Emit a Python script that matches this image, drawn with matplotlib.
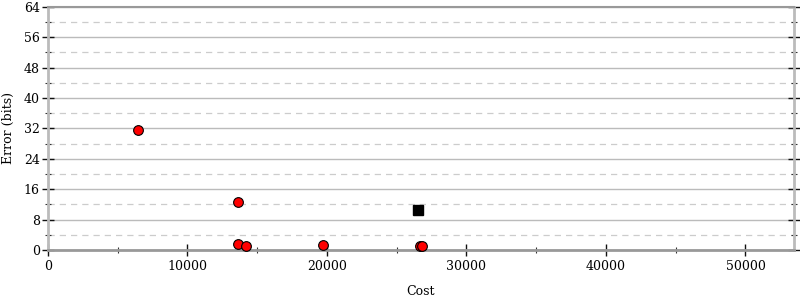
import matplotlib
matplotlib.use("Agg")
import matplotlib.pyplot as plt
from matplotlib.ticker import MultipleLocator

# red circles: cost vs error
circle_cost = [6450, 13630, 13650, 14200, 19730, 26690, 26830]
circle_err = [31.6, 12.6, 1.6, 1.1, 1.4, 1.0, 0.9]

# black square
square_cost = [26550]
square_err = [10.4]

plt.rcParams["font.family"] = "DejaVu Serif"
plt.rcParams["font.size"] = 9

fig, ax = plt.subplots(figsize=(8, 3), dpi=100)
fig.subplots_adjust(left=0.06, right=0.992, top=0.977, bottom=0.167)

ax.set_xlim(0, 53450)
ax.set_ylim(0, 64)

ax.yaxis.set_major_locator(MultipleLocator(8))
ax.yaxis.set_minor_locator(MultipleLocator(4))
ax.xaxis.set_major_locator(MultipleLocator(10000))
ax.xaxis.set_minor_locator(MultipleLocator(5000))

ax.grid(True, which="major", axis="y", color="#bbbbbb", lw=1, ls="-")
ax.grid(True, which="minor", axis="y", color="#cccccc", lw=0.9, ls=(0, (5, 4)))
ax.set_axisbelow(True)

for side in ["left", "right"]:
    ax.spines[side].set_color("#bbbbbb")
    ax.spines[side].set_linewidth(2)
ax.spines["bottom"].set_color("#999999")
ax.spines["bottom"].set_linewidth(2)
ax.spines["top"].set_color("#999999")
ax.spines["top"].set_linewidth(1.5)

ax.tick_params(axis="y", which="major", direction="inout", length=8, width=1,
               left=True, right=True, color="#111111", pad=2)
ax.tick_params(axis="y", which="minor", direction="inout", length=4, width=0.8,
               left=True, right=True, color="#333333")
ax.tick_params(axis="x", which="major", direction="inout", length=8, width=1,
               color="#111111", pad=3)
ax.tick_params(axis="x", which="minor", direction="inout", length=4, width=0.8,
               color="#333333")

ax.plot(circle_cost, circle_err, "o", ms=7, mfc="red", mec="black", mew=0.8,
        clip_on=False, zorder=3)
ax.plot(square_cost, square_err, "s", ms=7.5, mfc="black", mec="black",
        clip_on=False, zorder=3)

ax.set_xlabel("Cost", labelpad=9)
ax.set_ylabel("Error (bits)", labelpad=6)

fig.savefig("out.png")
